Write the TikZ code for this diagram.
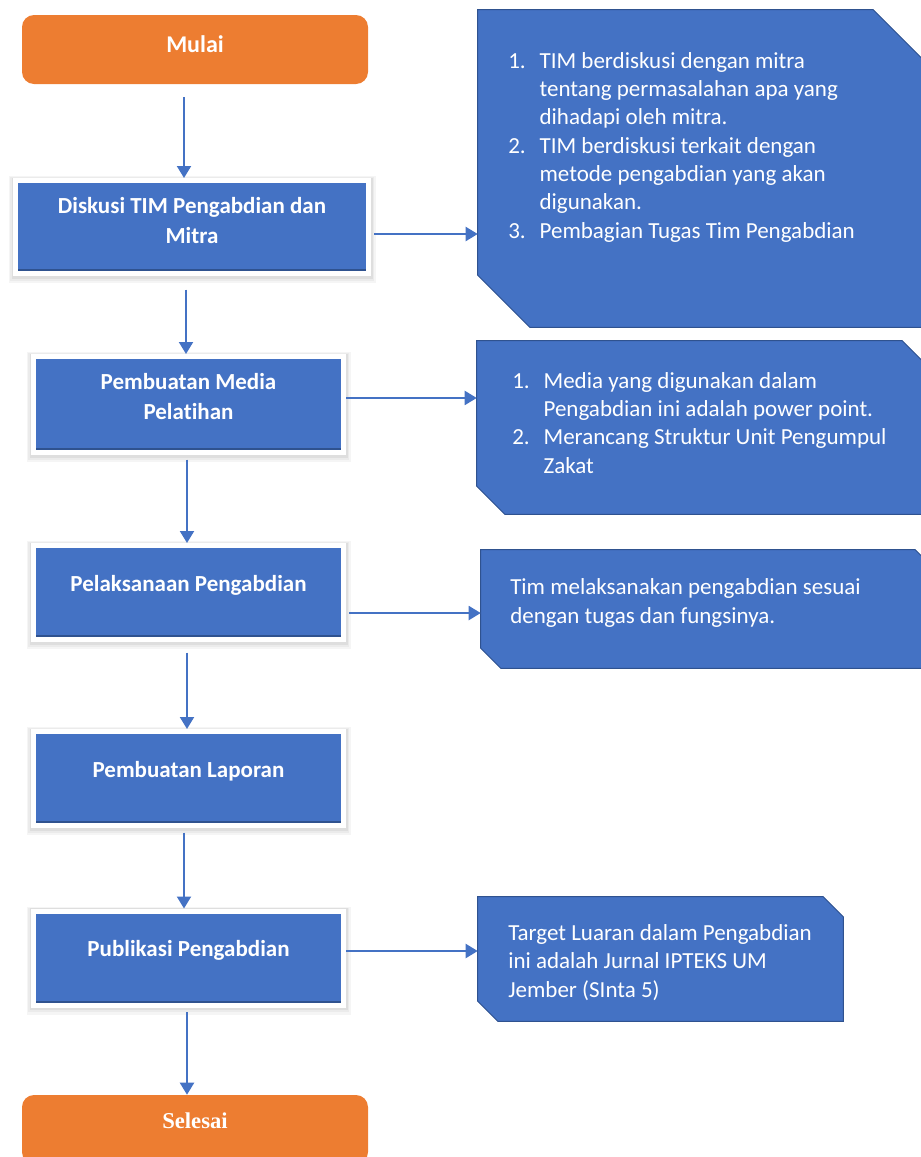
\documentclass[tikz,border=0pt]{standalone}
\usepackage{fontspec}
\setmainfont{Carlito}[Ligatures=NoCommon]
\newfontfamily\serifbold{Liberation Serif}
\usetikzlibrary{shapes,arrows.meta,positioning,calc,shadows}

\definecolor{biru}{HTML}{4472C4}
\definecolor{birutua}{HTML}{2F528F}
\definecolor{oranye}{HTML}{ED7D31}

\newcommand{\nomor}[1]{\makebox[23.5pt][l]{#1}}
\newcommand{\lanjut}{\hspace*{23.5pt}}
% kotak keterangan dengan sudut terpotong (nama node, ukuran potongan)
\newcommand{\kotakket}[2]{%
  \fill[biru, draw=birutua, line width=0.75pt] (#1.north west) -- ([xshift=-#2]#1.north east)
    -- ([yshift=-#2]#1.north east) -- (#1.south east) -- ([xshift=#2]#1.south west)
    -- ([yshift=#2]#1.south west) -- cycle;}

\tikzset{
  mulaiselesai/.style={rectangle, rounded corners=9pt, fill=oranye, text=white,
    minimum width=259.5pt, minimum height=51.75pt, inner sep=0pt,
    text height=12.75pt, text depth=9pt},
  blok/.style={rectangle, fill=biru, draw=white, line width=3.75pt, text=white,
    minimum width=232.5pt, minimum height=70.5pt, inner sep=0pt, align=center,
    font=\fontsize{17.25}{22.5}\selectfont\bfseries,
    text height=12.75pt, text depth=15pt,
    preaction={draw=black!4, line width=10.5pt, transform canvas={yshift=-2pt}},
    preaction={draw=black!8, line width=8pt, transform canvas={yshift=-1.5pt}},
    preaction={draw=black!13, line width=6pt, transform canvas={yshift=-1pt}},
    path picture={\fill[birutua] ([yshift=1.8pt]path picture bounding box.south west)
      rectangle ([yshift=3.3pt]path picture bounding box.south east);}},
  ket/.style={rectangle, inner sep=0pt},
  isi/.style={text=white, align=left, inner sep=0pt, anchor=base west,
    font=\fontsize{17.25}{21.25}\selectfont},
  panah/.style={draw=biru, line width=1.5pt, -{Triangle[width=10.5pt,length=9pt]}}
}

\begin{document}
\begin{tikzpicture}[x=0.75pt, y=-0.75pt]
\useasboundingbox (0,0) rectangle (921,1157);

% kotak keterangan
\node[ket, minimum width=335.25pt, minimum height=237.75pt] (diskusiket) at (701.5,168.5) {};
\kotakket{diskusiket}{39pt}
\node[ket, minimum width=339.75pt, minimum height=129.75pt] (mediaket) at (703.5,427.5) {};
\kotakket{mediaket}{21pt}
\node[ket, minimum width=340.5pt, minimum height=88.5pt] (pelaksanaanket) at (708,609) {};
\kotakket{pelaksanaanket}{15pt}
\node[ket, minimum width=273.75pt, minimum height=93pt] (publikasiket) at (660.5,959) {};
\kotakket{publikasiket}{15pt}

\node[isi] (diskusiisi) at (508,238) {\nomor{1.}TIM berdiskusi dengan mitra\\
  \lanjut tentang permasalahan apa yang\\
  \lanjut dihadapi oleh mitra.\\
  \nomor{2.}TIM berdiskusi terkait dengan\\
  \lanjut metode pengabdian yang akan\\
  \lanjut digunakan.\\
  \nomor{3.}Pembagian Tugas Tim Pengabdian};
\node[isi] (mediaisi) at (512,473) {\nomor{1.}Media yang digunakan dalam\\
  \lanjut Pengabdian ini adalah power point.\\
  \nomor{2.}Merancang Struktur Unit Pengumpul\\
  \lanjut Zakat};
\node[isi] (pelaksanaanisi) at (510,623) {Tim melaksanakan pengabdian sesuai\\
  dengan tugas dan fungsinya.};
\node[isi] (publikasiisi) at (508,997) {Target Luaran dalam Pengabdian\\
  ini adalah Jurnal IPTEKS UM\\
  Jember (SInta 5)};

% alur
\node[mulaiselesai, font=\fontsize{18}{22}\selectfont\bfseries] (mulai) at (195,49.5) {Mulai};
\node[blok, minimum width=264.75pt, minimum height=69.75pt, text height=35.25pt, text depth=11.25pt]
  (diskusi) at (192,227) {Diskusi TIM Pengabdian dan\\Mitra};
\node[blok, minimum height=72pt, text height=35.25pt, text depth=13.5pt]
  (media) at (188.5,404.5) {Pembuatan Media\\Pelatihan};
\node[blok] (pelaksanaan) at (188.5,592.5) {Pelaksanaan Pengabdian};
\node[blok] (laporan) at (188.5,778.5) {Pembuatan Laporan};
\node[blok] (publikasi) at (188.5,958) {Publikasi Pengabdian};
\node[mulaiselesai, font=\serifbold\fontsize{17}{20}\selectfont\bfseries, text depth=15pt]
  (selesai) at (195,1129.5) {Selesai};

% panah
\draw[panah] ($(mulai.south)+(-11,13)$) -- ($(diskusi.north)+(-8,0)$);
\draw[panah] ($(diskusi.south)+(-6,13.5)$) -- ($(media.north)+(-2.5,0)$);
\draw[panah] ($(media.south)+(-1.5,4.5)$) -- ($(pelaksanaan.north)+(-1.5,0)$);
\draw[panah] ($(pelaksanaan.south)+(-1.5,10.5)$) -- ($(laporan.north)+(-1.5,0)$);
\draw[panah] ($(laporan.south)+(-4.5,4.5)$) -- ($(publikasi.north)+(-4.5,0)$);
\draw[panah] ($(publikasi.south)+(-1.5,4.5)$) -- ($(selesai.north)+(-8,0)$);

\draw[panah] ([xshift=2.25pt,yshift=-5.25pt]diskusi.east) -- ([yshift=-5.25pt]diskusi.east -| diskusiket.west);
\draw[panah] ([yshift=4.9pt]media.east) -- ([yshift=4.9pt]media.east -| mediaket.west);
\draw[panah] ([xshift=2.6pt,yshift=-15.4pt]pelaksanaan.east) -- ([yshift=-15.4pt]pelaksanaan.east -| pelaksanaanket.west);
\draw[panah] ([yshift=5.25pt]publikasi.east) -- ([yshift=5.25pt]publikasi.east -| publikasiket.west);
\end{tikzpicture}
\end{document}
